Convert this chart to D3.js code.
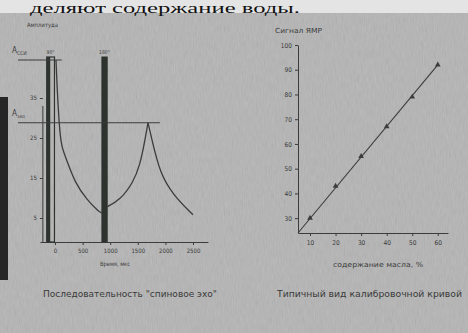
<!DOCTYPE html>
<html>
<head>
<meta charset="utf-8">
<script src="https://cdn.jsdelivr.net/npm/d3@7"></script>
<style>
  html, body { margin: 0; padding: 0; background: #b3b3b3; }
  svg { display: block; }
  text { font-family: "Liberation Sans Narrow", "DejaVu Sans Condensed", "Liberation Sans", sans-serif; fill: #3a3a3a; }
</style>
</head>
<body>
<script>
// spin echo: signal amplitude vs time (мкс)
const fidTime = [18, 36, 60, 91, 127, 212, 362, 580, 779, 851];
const fidAmp = [44.5, 38.2, 32, 25.8, 22.5, 19.5, 13.8, 9.5, 6.8, 6.2];
const riseTime = [942, 1178, 1413, 1540, 1630, 1685];
const riseAmp = [7.8, 9.5, 13.8, 18.2, 24.5, 28.8];
const fallTime = [1685, 1757, 1902, 2138, 2500];
const fallAmp = [28.8, 24.5, 16.2, 10.8, 5.8];
const pulseNames = ["90°", "180°"];
const pulseStart = [-150, 850];
const pulseEnd = [-10, 945];
const levelNames = ["ССИ", "эхо"];
const levelValues = [44.5, 28.8];
const timeTicks = [0, 500, 1000, 1500, 2000, 2500];
const ampTicks = [5, 15, 25, 35];

// calibration curve
const oilPct = [10, 20, 30, 40, 50, 60];
const nmrSignal = [30, 43, 55, 67, 79, 92];
const fitPct = [5.3, 60];
const fitSignal = [24, 92];
const pctTicks = [10, 20, 30, 40, 50, 60];
const signalTicks = [30, 40, 50, 60, 70, 80, 90, 100];

const W = 468, H = 333;
const svg = d3.select("body").append("svg").attr("width", W).attr("height", H);

// scan-like paper
const defs = svg.append("defs");
const f = defs.append("filter").attr("id", "grain").attr("x", 0).attr("y", 0).attr("width", 1).attr("height", 1);
f.append("feTurbulence").attr("type", "fractalNoise").attr("baseFrequency", "0.9 0.12").attr("numOctaves", 2).attr("seed", 4);
f.append("feColorMatrix").attr("type", "saturate").attr("values", 0);
svg.append("rect").attr("width", W).attr("height", H).attr("fill", "#b4b4b4");
svg.append("rect").attr("width", W).attr("height", H).attr("filter", "url(#grain)").attr("opacity", 0.22);
svg.append("rect").attr("width", W).attr("height", 13).attr("fill", "#e4e4e4");
svg.append("text").attr("x", 300).attr("y", 13).attr("text-anchor", "end")
  .style("font-family", "Liberation Serif, serif").style("font-size", "14px").style("fill", "#111")
  .attr("textLength", 270).attr("lengthAdjust", "spacingAndGlyphs")
  .text("деляют содержание воды.");
svg.append("rect").attr("x", 0).attr("y", 97).attr("width", 8).attr("height", 183).attr("fill", "#262626");

const ink = "#3c3c3c";

// ---- left: spin echo ----
const x1 = d3.scaleLinear().domain([-272, 2772]).range([40, 208]);
const y1 = d3.scaleLinear().domain([-1, 44.5]).range([242, 60]);
const g1 = svg.append("g");

g1.append("g").attr("transform", "translate(0,242)")
  .call(d3.axisBottom(x1).tickValues(timeTicks).tickSize(3).tickSizeOuter(0).tickFormat(d3.format("d")))
  .call(a => a.selectAll("text").style("font-size", "6px").attr("dy", "0.9em"));
g1.append("g").attr("transform", `translate(${x1(-220)},0)`)
  .call(d3.axisLeft(y1).tickValues(ampTicks).tickSize(3).tickSizeOuter(0))
  .call(a => a.select(".domain").attr("d", `M0,${y1(33)}V242`))
  .call(a => a.selectAll("text").style("font-size", "6px"));
g1.selectAll(".domain, .tick line").attr("stroke", ink);

g1.selectAll(".pulse").data(pulseNames).join("rect")
  .attr("x", (d, i) => x1(pulseStart[i]))
  .attr("width", (d, i) => x1(pulseEnd[i]) - x1(pulseStart[i]))
  .attr("y", y1(44.5) - 3).attr("height", 242 - y1(44.5) + 3)
  .attr("fill", (d, i) => i ? "#2e332f" : "none")
  .attr("stroke", "#2e332f").attr("stroke-width", (d, i) => i ? 1 : 1.2);
g1.append("rect").attr("x", x1(-150)).attr("width", 3.5)
  .attr("y", y1(44.5) - 3).attr("height", 242 - y1(44.5) + 3).attr("fill", "#2e332f");
g1.selectAll(".plabel").data(pulseNames).join("text")
  .attr("x", (d, i) => x1((pulseStart[i] + pulseEnd[i]) / 2)).attr("y", y1(44.5) - 6)
  .attr("text-anchor", "middle").style("font-size", "5px").text(d => d);

const levelEnd = [120, 1900];
g1.selectAll(".level").data(levelValues).join("line")
  .attr("x1", 18).attr("x2", (d, i) => x1(levelEnd[i]))
  .attr("y1", d => y1(d)).attr("y2", d => y1(d))
  .attr("stroke", ink).attr("stroke-width", 1.1);
const lab = g1.selectAll(".llabel").data(levelNames).join("text")
  .attr("x", 12).attr("y", (d, i) => y1(levelValues[i]) - 7).style("font-size", "8px");
lab.append("tspan").text("A");
lab.append("tspan").attr("dy", 2).style("font-size", "5px").text(d => d);

const line1 = d3.line().x(d => x1(d[0])).y(d => y1(d[1])).curve(d3.curveBasis);
[[fidTime, fidAmp], [riseTime, riseAmp], [fallTime, fallAmp]].forEach(([t, a]) => {
  g1.append("path").datum(t.map((v, i) => [v, a[i]]))
    .attr("d", line1).attr("fill", "none").attr("stroke", ink).attr("stroke-width", 1.3);
});

svg.append("text").attr("x", 27).attr("y", 27).style("font-size", "6px")
  .attr("textLength", 31).attr("lengthAdjust", "spacingAndGlyphs").text("Амплитуда");
svg.append("text").attr("x", 115).attr("y", 266).attr("text-anchor", "middle").style("font-size", "6px")
  .attr("textLength", 30).attr("lengthAdjust", "spacingAndGlyphs").text("Время, мкс");
svg.append("text").attr("x", 43).attr("y", 297).style("font-size", "9px")
  .attr("textLength", 174).attr("lengthAdjust", "spacingAndGlyphs").text("Последовательность \"спиновое эхо\"");

// ---- right: calibration ----
const x2 = d3.scaleLinear().domain([5.3, 64]).range([298, 448]);
const y2 = d3.scaleLinear().domain([24, 100]).range([233, 45]);
const g2 = svg.append("g");
g2.append("g").attr("transform", "translate(0,233)")
  .call(d3.axisBottom(x2).tickValues(pctTicks).tickSize(3).tickSizeOuter(0))
  .call(a => a.selectAll("text").style("font-size", "6.5px").attr("dy", "0.9em"));
g2.append("g").attr("transform", "translate(298,0)")
  .call(d3.axisLeft(y2).tickValues(signalTicks).tickSize(3).tickSizeOuter(0))
  .call(a => a.selectAll("text").style("font-size", "6.5px"));
g2.selectAll(".domain, .tick line").attr("stroke", ink);

g2.append("path").datum(fitPct.map((v, i) => [v, fitSignal[i]]))
  .attr("d", d3.line().x(d => x2(d[0])).y(d => y2(d[1])))
  .attr("fill", "none").attr("stroke", ink).attr("stroke-width", 1.1);
g2.selectAll(".pt").data(oilPct).join("path")
  .attr("transform", (d, i) => `translate(${x2(d)},${y2(nmrSignal[i])})`)
  .attr("d", d3.symbol(d3.symbolTriangle, 14)).attr("fill", ink);

svg.append("text").attr("x", 275).attr("y", 33).style("font-size", "7px")
  .attr("textLength", 47).attr("lengthAdjust", "spacingAndGlyphs").text("Сигнал ЯМР");
svg.append("text").attr("x", 333).attr("y", 267).style("font-size", "7px")
  .attr("textLength", 90).attr("lengthAdjust", "spacingAndGlyphs").text("содержание масла, %");
svg.append("text").attr("x", 277).attr("y", 297).style("font-size", "9px")
  .attr("textLength", 185).attr("lengthAdjust", "spacingAndGlyphs").text("Типичный вид калибровочной кривой");
</script>
</body>
</html>
